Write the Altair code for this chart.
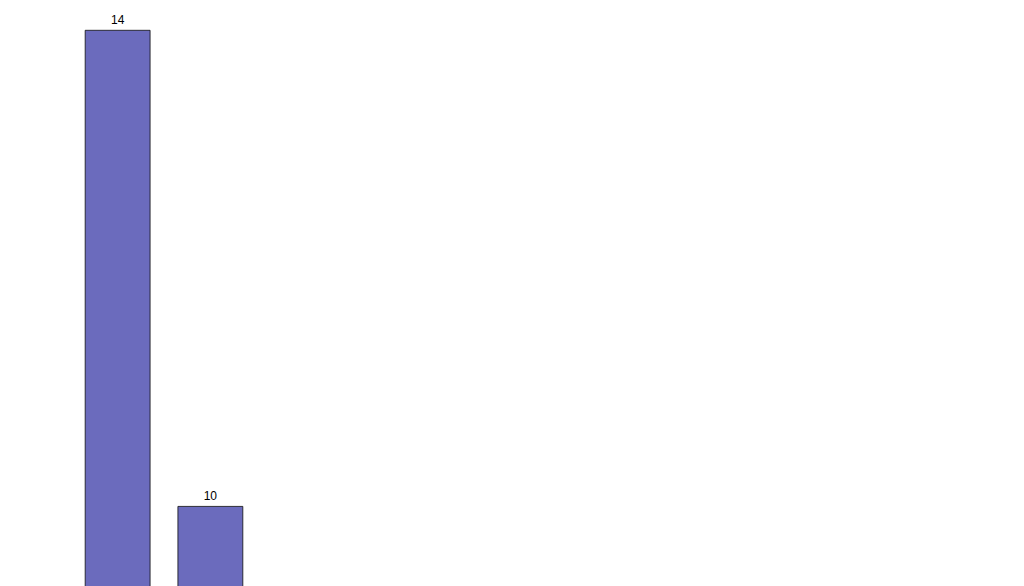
import altair as alt
import pandas as pd

groups = ["Alertness", "Irritation", "Fear", "Aggression"]
behaviours = [
    ["Head Up", "Trunk Up"],
    ["Head Shake", "Tail Up", "Gland Secretion"],
    ["Running", "Bunching"],
    ["Tusking", "Trashing"],
]
counts = [[14, 10], [7, 2, 2], [4, 1], [0, 0]]
colors = ["#6464ba", "#66bb66", "#bb9b66", "#888888"]

total = sum(sum(c) for c in counts)
unit = 93
grid_values = [i / 100 for i in range(0, 11)]

panels = []
for i, (grp, names, cnt) in enumerate(zip(groups, behaviours, counts)):
    df = pd.DataFrame({"behaviour": names, "count": cnt})
    df["pct"] = df["count"] / total
    df["base"] = 0.0
    first = i == 0
    y_axis = alt.Axis(
        values=grid_values, grid=True, gridColor="#ebebeb", domain=False,
        labelExpr="round(datum.value * 100) % 2 == 0 ? format(datum.value, '.0%') : ''",
        labels=first, ticks=first, tickColor="#333333",
        labelColor="#4d4d4d", labelFontSize=12, titleFontSize=13,
        titleColor="black", titleFontWeight="bold",
    )
    y_enc = alt.Y("pct:Q", title="Percentage Occurrence" if first else "",
                  scale=alt.Scale(domain=[-0.0049, 0.1039], nice=False, zero=False),
                  axis=y_axis)
    x_enc = alt.X("behaviour:N", sort=names, title=grp,
                  scale=alt.Scale(paddingInner=0.3, paddingOuter=0.25),
                  axis=alt.Axis(labelAngle=0, grid=True, gridColor="#ebebeb",
                                labelColor="#4d4d4d", labelFontSize=12,
                                titleFontSize=13, titleFontWeight="bold",
                                titleColor="black", titlePadding=10,
                                domain=False, tickColor="#333333"))
    bars = alt.Chart(df).mark_bar(color=colors[i], opacity=0.95, stroke="black",
                                  strokeWidth=0.8).encode(x=x_enc, y=y_enc, y2="base:Q")
    text = alt.Chart(df).mark_text(dy=-10, fontSize=12, color="black").encode(
        x=x_enc, y=y_enc, text="count:Q"
    )
    panel = (bars + text).properties(width=int(unit * (len(names) + 0.2)), height=518)
    panels.append(panel)

chart = alt.hconcat(*panels, spacing=8).configure_view(
    stroke="#333333", strokeWidth=1
).configure(font="Liberation Sans")

chart.save("out.html", embed_options={"renderer": "svg", "actions": False})
